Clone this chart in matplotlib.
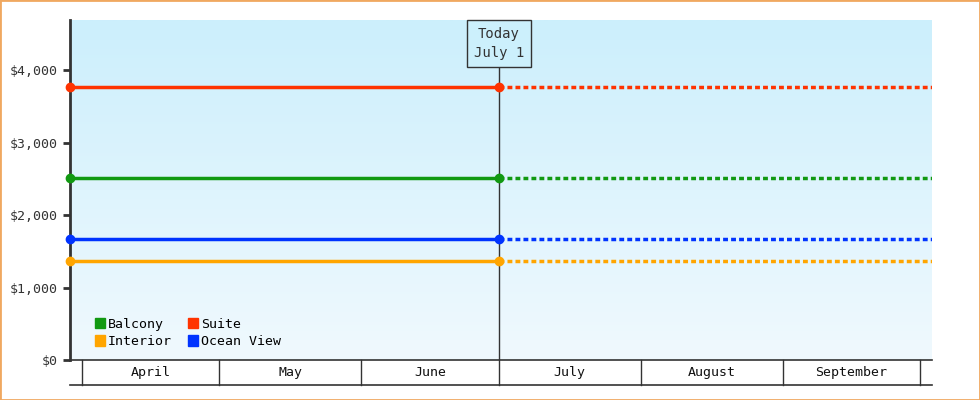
import matplotlib
matplotlib.use("Agg")
import matplotlib.pyplot as plt
import numpy as np
from matplotlib.patches import Rectangle
from matplotlib.lines import Line2D
from matplotlib.colors import LinearSegmentedColormap

series = ["Balcony", "Suite", "Interior", "Ocean View"]
colors = ["#119911", "#ff3300", "#ffa500", "#0033ff"]
values = [2510, 3760, 1365, 1670]
months = ["April", "May", "June", "July", "August", "September"]
month_days = [30, 31, 30, 31, 31, 30]
today_day = 91  # July 1, days from April 1
x_start, x_end = -2.6, 185.6
ymax = 4690

plt.rcParams['font.family'] = ['DejaVu Sans Mono']
fig = plt.figure(figsize=(9.8, 4), dpi=100)
fig.patches.append(Rectangle((0, 0), 1, 1, transform=fig.transFigure, fill=False,
                             edgecolor="#f0a860", linewidth=2))
ax = fig.add_axes([70/980, 40/400, 862/980, 340/400])
ax.set_xlim(x_start, x_end)
ax.set_ylim(0, ymax)

grad = np.linspace(0, 1, 256).reshape(-1, 1)
cm = LinearSegmentedColormap.from_list("bg", ["#f0f9fe", "#cceffc"])
ax.imshow(grad, aspect="auto", cmap=cm, origin="lower",
          extent=[x_start, x_end, 0, ymax], zorder=0)

for s, c, v in zip(series, colors, values):
    ax.plot([x_start, today_day], [v, v], color=c, lw=2.5, zorder=3)
    ax.plot([today_day, x_end], [v, v], color=c, lw=2.5, ls=(0, (1.4, 0.9)), zorder=3)
    ax.plot([x_start, today_day], [v, v], 'o', color=c, ms=6, zorder=4, clip_on=False)

ax.axvline(today_day, color="#333333", lw=1, zorder=2)
ax.text(today_day, ymax - 100, "Today\nJuly 1", ha="center", va="top", fontsize=10,
        color="#333333", linespacing=1.45,
        bbox=dict(boxstyle="square,pad=0.5", fc="#ccf0fc", ec="#333333", lw=1), zorder=5)

for sp in ["top", "right", "bottom"]:
    ax.spines[sp].set_visible(False)
ax.spines["left"].set_linewidth(2)
ax.spines["left"].set_color("#333333")
yt = [0, 1000, 2000, 3000, 4000]
ax.set_yticks(yt)
ax.set_yticklabels([f"${v:,}" for v in yt], fontsize=9.5, color="#333333")
ax.tick_params(axis="y", length=5, width=2, color="#333333")
ax.set_xticks([])

tr = ax.get_xaxis_transform()
ax.add_line(Line2D([x_start, x_end], [0, 0], transform=tr, color="#333333", lw=1.2, clip_on=False))
ax.add_line(Line2D([x_start, x_end], [-25/340, -25/340], transform=tr, color="#333333", lw=1.2, clip_on=False))
d = 0
bounds = [0]
for md in month_days:
    d += md
    bounds.append(d)
for b in bounds:
    ax.add_line(Line2D([b, b], [0, -25/340], transform=tr, color="#333333", lw=1, clip_on=False))
for i, m in enumerate(months):
    ax.text((bounds[i] + bounds[i+1]) / 2, -12.5/340, m, transform=tr, ha="center",
            va="center", fontsize=9.5, color="#111111")

order = [0, 2, 1, 3]
handles = [Rectangle((0, 0), 1, 1, color=colors[i]) for i in order]
labels = [series[i] for i in order]
ax.legend(handles, labels, ncol=2, loc="lower left", bbox_to_anchor=(0.015, 0.0),
          frameon=False, fontsize=9.5, handlelength=0.8, handleheight=0.8,
          handletextpad=0.2, columnspacing=1.2, labelspacing=0.35)

fig.savefig("out.png", dpi=100)
